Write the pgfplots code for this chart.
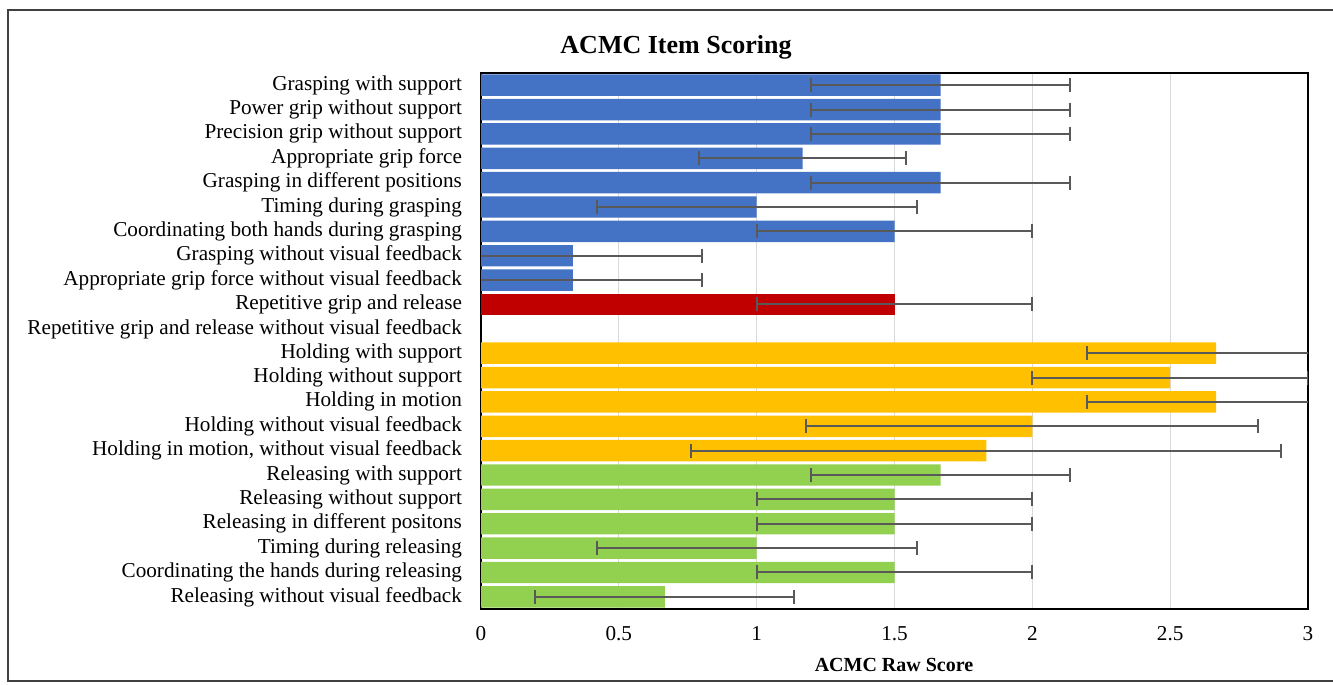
\documentclass[border=0pt]{standalone}
\usepackage{pgfplots}
\pgfplotsset{compat=1.18}
\usepackage{fontspec}
\setmainfont{Liberation Serif}
\definecolor{cblue}{HTML}{4472C4}
\definecolor{cred}{HTML}{C00000}
\definecolor{cgold}{HTML}{FFC000}
\definecolor{cgreen}{HTML}{92D050}
\definecolor{cerr}{HTML}{595959}
\definecolor{cgrid}{HTML}{D9D9D9}
\pgfplotsset{myerr/.style={error bars/.cd, x dir=both, x explicit, error bar style={cerr, line width=1pt}, error mark options={cerr, line width=1pt, mark size=3.5pt, rotate=90}}}
\begin{document}
\begin{tikzpicture}
\useasboundingbox (0pt,0pt) rectangle (666.5pt,-342.5pt);
\draw[line width=1pt, black!75] (4pt,-5pt) rectangle (672pt,-340.5pt);
\node[font=\fontsize{13}{15}\selectfont\bfseries] at (338pt,-23.5pt) {ACMC Item Scoring};
\node[font=\fontsize{10}{12}\selectfont\bfseries] at (447pt,-332.5pt) {ACMC Raw Score};
\begin{axis}[
  at={(240.5pt,-304.5pt)}, anchor=south west,
  width=413.5pt, height=268pt, scale only axis,
  xmin=0, xmax=3, ymin=-0.5, ymax=21.5, y dir=reverse,
  xtick={0,0.5,1,1.5,2,2.5,3},
  xticklabels={0,0.5,1,1.5,2,2.5,3},
  ytick={0,...,21},
  yticklabels={Grasping with support, Power grip without support, Precision grip without support, Appropriate grip force, Grasping in different positions, Timing during grasping, Coordinating both hands during grasping, Grasping without visual feedback, Appropriate grip force without visual feedback, Repetitive grip and release, Repetitive grip and release without visual feedback, Holding with support, Holding without support, Holding in motion, Holding without visual feedback, {Holding in motion, without visual feedback}, Releasing with support, Releasing without support, Releasing in different positons, Timing during releasing, Coordinating the hands during releasing, Releasing without visual feedback},
  major tick length=0pt,
  xmajorgrids, major grid style={cgrid, line width=0.6pt},
  axis line style={black, line width=1pt},
  tick label style={font=\fontsize{10.6}{12}\selectfont},
  xticklabel style={yshift=-5pt},
  yticklabel style={xshift=-6pt},
  xbar, bar shift=0pt, bar width=0.88,
  clip=true,
]
\addplot[fill=cblue, draw=none, myerr] coordinates {
 (1.667,0) +- (0.47,0)
 (1.667,1) +- (0.47,0)
 (1.667,2) +- (0.47,0)
 (1.167,3) +- (0.375,0)
 (1.667,4) +- (0.47,0)
 (1.0,5) +- (0.58,0)
 (1.5,6) +- (0.5,0)
 (0.333,7) +- (0.47,0)
 (0.333,8) +- (0.47,0)
};
\addplot[fill=cred, draw=none, myerr] coordinates {
 (1.5,9) +- (0.5,0)
};
\addplot[fill=cgold, draw=none, myerr] coordinates {
 (2.667,11) +- (0.47,0)
 (2.5,12) +- (0.5,0)
 (2.667,13) +- (0.47,0)
 (2.0,14) +- (0.82,0)
 (1.833,15) +- (1.07,0)
};
\addplot[fill=cgreen, draw=none, myerr] coordinates {
 (1.667,16) +- (0.47,0)
 (1.5,17) +- (0.5,0)
 (1.5,18) +- (0.5,0)
 (1.0,19) +- (0.58,0)
 (1.5,20) +- (0.5,0)
 (0.667,21) +- (0.47,0)
};
\end{axis}
\end{tikzpicture}
\end{document}
